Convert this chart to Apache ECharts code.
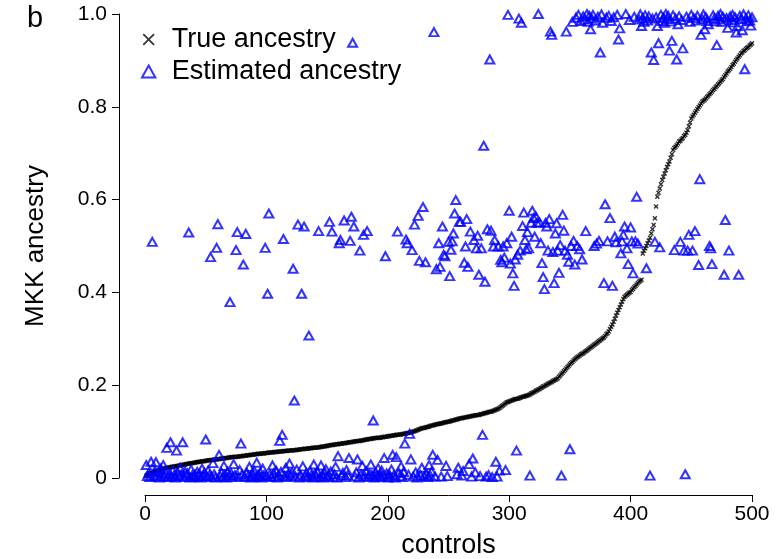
<!DOCTYPE html>
<html><head><meta charset="utf-8">
<script src="https://cdn.jsdelivr.net/npm/echarts@6/dist/echarts.min.js"></script>
<style>html,body{margin:0;padding:0;background:#fff}#c{width:781px;height:559px}</style>
</head><body><div id="c"></div>
<script>
const panelLabel = 'b';
const xAxisTitle = 'controls';
const yAxisTitle = 'MKK ancestry';
const seriesNames = ['True ancestry', 'Estimated ancestry'];
const xTicks = [0, 100, 200, 300, 400, 500];
const yTicks = [0, 0.2, 0.4, 0.6, 0.8, 1.0];

const trueAncestry = [
0.005,0.007,0.009,0.010,0.011,0.012,0.013,0.014,0.015,0.016,0.016,0.017,0.018,0.019,0.020,0.021,0.021,0.022,0.022,0.023,
0.023,0.024,0.024,0.025,0.025,0.026,0.026,0.027,0.027,0.028,0.028,0.029,0.029,0.030,0.030,0.031,0.031,0.032,0.032,0.033,
0.033,0.034,0.034,0.035,0.035,0.035,0.036,0.036,0.036,0.037,0.037,0.038,0.038,0.038,0.039,0.039,0.040,0.040,0.040,0.041,
0.041,0.041,0.042,0.042,0.042,0.043,0.043,0.043,0.044,0.044,0.045,0.045,0.045,0.045,0.046,0.046,0.046,0.047,0.047,0.047,
0.048,0.048,0.048,0.049,0.049,0.049,0.050,0.050,0.050,0.051,0.051,0.051,0.052,0.052,0.052,0.053,0.053,0.053,0.054,0.054,
0.054,0.055,0.055,0.055,0.055,0.056,0.056,0.056,0.056,0.057,0.057,0.057,0.057,0.058,0.058,0.058,0.058,0.059,0.059,0.059,
0.059,0.060,0.060,0.060,0.061,0.061,0.061,0.062,0.062,0.062,0.063,0.063,0.063,0.063,0.064,0.064,0.064,0.065,0.065,0.065,
0.066,0.066,0.066,0.067,0.067,0.068,0.068,0.068,0.069,0.069,0.070,0.070,0.071,0.071,0.071,0.072,0.072,0.073,0.073,0.074,
0.074,0.074,0.075,0.075,0.075,0.076,0.076,0.077,0.077,0.077,0.078,0.078,0.079,0.079,0.080,0.080,0.080,0.081,0.081,0.082,
0.082,0.083,0.083,0.084,0.084,0.084,0.085,0.085,0.086,0.086,0.086,0.087,0.087,0.087,0.088,0.088,0.089,0.089,0.089,0.090,
0.090,0.091,0.091,0.091,0.092,0.092,0.093,0.093,0.093,0.094,0.094,0.095,0.095,0.096,0.096,0.097,0.097,0.098,0.098,0.099,
0.100,0.101,0.102,0.103,0.104,0.105,0.106,0.107,0.108,0.108,0.109,0.110,0.110,0.111,0.112,0.113,0.113,0.114,0.115,0.116,
0.116,0.117,0.117,0.118,0.118,0.119,0.120,0.120,0.121,0.121,0.122,0.123,0.124,0.124,0.125,0.126,0.126,0.127,0.128,0.129,
0.129,0.130,0.130,0.131,0.131,0.132,0.132,0.133,0.133,0.134,0.134,0.135,0.135,0.136,0.136,0.137,0.138,0.138,0.139,0.140,
0.140,0.141,0.142,0.143,0.143,0.144,0.145,0.146,0.147,0.148,0.149,0.151,0.153,0.155,0.157,0.159,0.161,0.163,0.164,0.165,
0.166,0.167,0.168,0.169,0.170,0.170,0.171,0.172,0.173,0.174,0.175,0.175,0.176,0.177,0.178,0.179,0.180,0.182,0.183,0.185,
0.186,0.188,0.189,0.191,0.192,0.194,0.195,0.197,0.198,0.200,0.201,0.203,0.204,0.206,0.207,0.209,0.210,0.212,0.213,0.215,
0.218,0.221,0.224,0.227,0.230,0.233,0.236,0.239,0.242,0.245,0.248,0.250,0.253,0.256,0.258,0.260,0.262,0.264,0.266,0.268,
0.269,0.271,0.273,0.275,0.277,0.279,0.281,0.283,0.285,0.287,0.289,0.291,0.293,0.295,0.297,0.299,0.301,0.303,0.306,0.310,
0.312,0.316,0.321,0.326,0.331,0.337,0.343,0.350,0.356,0.362,0.368,0.374,0.380,0.386,0.390,0.393,0.395,0.397,0.399,0.401,
0.405,0.408,0.411,0.414,0.417,0.420,0.423,0.425,0.427,0.484,0.490,0.495,0.500,0.506,0.512,0.518,0.527,0.536,0.545,0.560,
0.585,0.606,0.615,0.624,0.633,0.642,0.649,0.656,0.663,0.670,0.676,0.682,0.690,0.698,0.707,0.711,0.714,0.717,0.721,0.725,
0.727,0.730,0.733,0.737,0.740,0.744,0.750,0.758,0.766,0.775,0.779,0.783,0.787,0.791,0.795,0.799,0.803,0.807,0.811,0.813,
0.815,0.818,0.821,0.824,0.827,0.830,0.833,0.836,0.839,0.842,0.845,0.848,0.851,0.854,0.857,0.860,0.864,0.868,0.872,0.876,
0.879,0.882,0.886,0.890,0.893,0.897,0.901,0.904,0.908,0.911,0.915,0.917,0.920,0.922,0.925,0.927,0.929,0.932,0.934,0.937
];

const estimatedAncestry = [
0.028,0.004,0.010,0.002,0.035,0.509,0.006,0.015,0.034,0.003,0.012,0.001,0.020,0.007,0.028,0.004,0.011,0.065,0.002,0.009,
0.077,0.003,0.016,0.006,0.001,0.059,0.012,0.004,0.022,0.008,0.077,0.002,0.014,0.005,0.010,0.529,0.001,0.018,0.006,0.003,
0.007,0.002,0.013,0.004,0.009,0.001,0.020,0.005,0.011,0.083,0.003,0.016,0.006,0.476,0.002,0.032,0.008,0.001,0.496,0.547,
0.050,0.004,0.012,0.002,0.026,0.007,0.001,0.014,0.005,0.379,0.010,0.002,0.030,0.006,0.491,0.530,0.003,0.017,0.074,0.008,
0.460,0.002,0.526,0.011,0.004,0.024,0.001,0.009,0.005,0.015,0.002,0.033,0.007,0.003,0.012,0.001,0.020,0.006,0.496,0.004,
0.397,0.570,0.008,0.002,0.027,0.010,0.003,0.016,0.001,0.006,0.080,0.013,0.093,0.515,0.004,0.022,0.002,0.009,0.031,0.005,
0.012,0.451,0.167,0.003,0.018,0.546,0.001,0.007,0.397,0.025,0.542,0.004,0.011,0.002,0.307,0.015,0.006,0.001,0.029,0.009,
0.004,0.013,0.532,0.002,0.027,0.007,0.001,0.010,0.019,0.003,0.006,0.552,0.014,0.531,0.002,0.008,0.024,0.001,0.047,0.506,
0.513,0.005,0.011,0.555,0.002,0.017,0.006,0.043,0.511,0.563,0.938,0.542,0.003,0.012,0.040,0.001,0.490,0.008,0.026,0.524,
0.004,0.015,0.532,0.002,0.009,0.029,0.006,0.124,0.001,0.012,0.004,0.021,0.007,0.002,0.016,0.005,0.043,0.478,0.010,0.001,
0.008,0.003,0.018,0.050,0.006,0.001,0.045,0.531,0.011,0.004,0.025,0.002,0.013,0.074,0.514,0.506,0.007,0.095,0.040,0.491,
0.003,0.546,0.012,0.001,0.565,0.468,0.006,0.022,0.584,0.004,0.465,0.009,0.002,0.028,0.005,0.014,0.050,0.961,0.003,0.450,
0.039,0.506,0.455,0.003,0.542,0.481,0.478,0.026,0.004,0.509,0.435,0.492,0.510,0.527,0.570,0.599,0.008,0.022,0.552,0.552,
0.005,0.015,0.464,0.499,0.558,0.455,0.030,0.531,0.003,0.042,0.513,0.012,0.495,0.522,0.438,0.004,0.495,0.093,0.716,0.423,
0.003,0.536,0.006,0.902,0.533,0.002,0.499,0.513,0.035,0.003,0.499,0.016,0.470,0.465,0.499,0.475,0.017,0.506,0.998,0.576,
0.462,0.520,0.441,0.414,0.471,0.059,0.481,0.990,0.490,0.981,0.543,0.572,0.513,0.493,0.530,0.495,0.005,0.550,0.576,0.560,
0.520,0.563,0.550,1.000,0.551,0.506,0.463,0.433,0.407,0.550,0.542,0.490,0.558,0.962,0.955,0.487,0.420,0.527,0.549,0.490,
0.442,0.502,0.005,0.567,0.533,0.490,0.962,0.481,0.466,0.062,0.500,0.983,0.511,0.460,0.992,0.500,0.998,0.493,0.985,0.471,
0.995,0.988,0.532,1.000,0.983,0.996,0.967,0.990,0.998,0.500,0.986,0.505,0.994,0.511,0.917,0.999,0.981,0.420,0.590,0.992,
0.510,0.996,0.560,0.985,0.414,0.993,0.520,0.508,0.998,0.945,0.969,0.484,0.510,0.524,0.542,1.000,0.495,0.461,0.987,0.540,
0.510,0.441,0.994,0.510,0.606,0.505,0.988,0.999,0.974,0.991,0.983,0.997,0.452,0.986,0.995,0.005,0.917,0.990,0.901,0.509,
0.993,0.974,0.937,0.497,0.998,0.985,0.992,0.981,1.000,0.989,0.996,0.921,0.984,0.942,0.997,0.491,0.990,0.902,0.978,0.995,
0.509,0.987,0.926,0.490,0.008,0.994,0.490,0.524,0.983,0.998,0.490,0.991,0.532,0.986,0.996,0.459,0.644,0.955,0.989,0.999,
0.967,0.993,0.985,0.978,0.500,0.495,0.461,0.997,0.990,0.984,0.933,0.996,0.988,1.000,0.983,0.994,0.438,0.556,0.991,0.970,
0.490,0.995,0.987,0.998,0.982,0.993,0.960,0.974,0.438,0.996,0.989,0.965,0.999,0.881,0.990,0.984,0.997,0.986,0.975,0.993
];

const FONT = '"Liberation Sans", Arial, Helvetica, sans-serif';
const crossThick = 'path://M0,2L2,0L5,3L8,0L10,2L7,5L10,8L8,10L5,7L2,10L0,8L3,5Z';
const crossThin = 'path://M0,1L1,0L5,4L9,0L10,1L6,5L10,9L9,10L5,6L1,10L0,9L4,5Z';
const triPath = 'path://M5,0L10,9L0,9Z';

const trueData = trueAncestry.map((v, i) => [i + 1, v]);
const estData = estimatedAncestry.map((v, i) => [i + 1, v]);

const chart = echarts.init(document.getElementById('c'), null, {renderer: 'canvas'});
chart.setOption({
  animation: false,
  backgroundColor: '#fff',
  title: {text: panelLabel, left: 22, top: -1, textStyle: {fontSize: 29, fontWeight: 'normal', color: '#000', fontFamily: FONT}},
  grid: {left: 145, right: 29, top: 14, bottom: 81, containLabel: false, outerBoundsMode: 'none'},
  legend: {
    orient: 'vertical', left: 141, top: 26, padding: 0, itemWidth: 36, itemHeight: 12, itemGap: 5,
    symbolKeepAspect: true,
    textStyle: {fontSize: 27, color: '#000', fontFamily: FONT},
    data: [
      {name: seriesNames[0], icon: crossThin, itemStyle: {color: '#000', borderWidth: 0}},
      {name: seriesNames[1], icon: triPath, itemStyle: {color: 'rgba(0,0,0,0)', borderColor: '#0000ff', borderWidth: 2}}
    ]
  },
  xAxis: {
    type: 'value', min: xTicks[0], max: xTicks[xTicks.length - 1], interval: 100, offset: 17,
    name: xAxisTitle, nameLocation: 'middle', nameGap: 37,
    nameTextStyle: {fontSize: 27, color: '#000', fontFamily: FONT},
    axisLine: {show: true, onZero: false, lineStyle: {color: '#000', width: 1}},
    axisTick: {show: true, length: 7, lineStyle: {color: '#000'}},
    axisLabel: {fontSize: 21, color: '#000', margin: 9, fontFamily: FONT},
    splitLine: {show: false}
  },
  yAxis: {
    type: 'value', min: yTicks[0], max: yTicks[yTicks.length - 1], interval: 0.2, offset: 26,
    name: yAxisTitle, nameLocation: 'middle', nameGap: 70, nameRotate: 90,
    nameTextStyle: {fontSize: 26, color: '#000', fontFamily: FONT},
    axisLine: {show: true, onZero: false, lineStyle: {color: '#000', width: 1}},
    axisTick: {show: true, length: 7, lineStyle: {color: '#000'}},
    axisLabel: {fontSize: 21, color: '#000', margin: 12, fontFamily: FONT,
      formatter: v => (v === 0 ? '0' : v.toFixed(1))},
    splitLine: {show: false}
  },
  series: [
    {name: seriesNames[0], type: 'scatter', data: trueData, symbol: crossThick, symbolSize: 5,
     clip: false, itemStyle: {color: '#000'}, z: 2},
    {name: seriesNames[1], type: 'scatter', data: estData, symbol: 'triangle', symbolSize: [9, 8],
     clip: false, itemStyle: {color: 'rgba(0,0,0,0)', borderColor: '#0000ff', borderWidth: 2}, z: 3}
  ]
});
</script>
</body></html>
